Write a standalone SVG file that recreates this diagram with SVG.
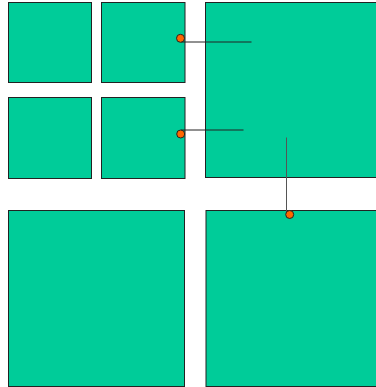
<svg xmlns="http://www.w3.org/2000/svg" width="376" height="387" viewBox="0 0 376 387">
<style>
.box{fill:#00cc99;stroke:#222;stroke-width:1}
.ln{stroke:#222;stroke-width:1;fill:none}
.pt{fill:#ff6600;stroke:#222;stroke-width:1}
</style>
<rect width="376" height="387" fill="#fff"/>
<g id="n1"><rect class="box" x="8.5" y="2.5" width="83" height="80"/></g>
<g id="n2"><rect class="box" x="101.5" y="2.5" width="83.5" height="80"/></g>
<g id="n3"><rect class="box" x="8.5" y="97.5" width="83" height="81"/></g>
<g id="n4"><rect class="box" x="101.5" y="97.5" width="83.5" height="81"/></g>
<g id="n5"><rect class="box" x="205.5" y="2.5" width="180" height="175"/></g>
<g id="n6"><rect class="box" x="8.5" y="210.5" width="176" height="176"/></g>
<g id="n7"><rect class="box" x="206" y="210.5" width="180" height="176"/></g>
<g id="connectors">
<path class="ln" d="M181 42H251.5"/>
<path class="ln" d="M181 130H243.5"/>
<path class="ln" style="stroke:#555" d="M286.5 137.5V212"/>
<circle class="pt" cx="180.5" cy="38.3" r="4"/>
<circle class="pt" cx="180.7" cy="134" r="4"/>
<circle class="pt" cx="289.7" cy="214.5" r="4"/>
</g>
</svg>
